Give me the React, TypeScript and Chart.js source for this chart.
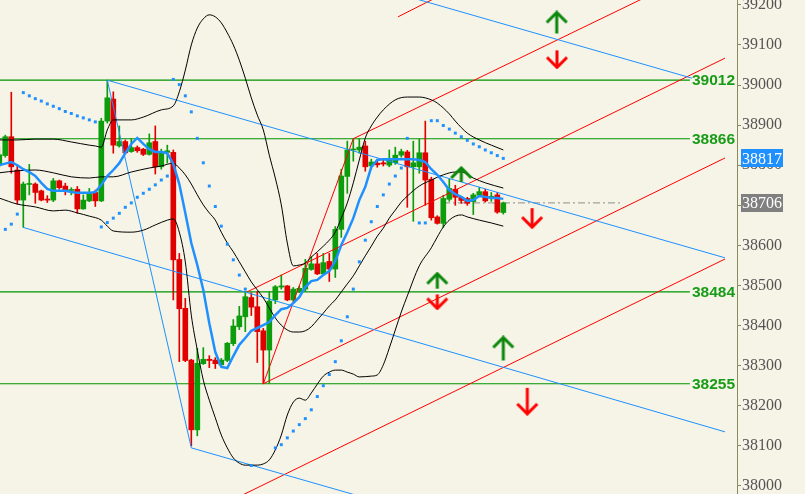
import { useEffect, useRef } from 'react';
import Chart from 'chart.js/auto';

// ---- candles (one per bar, index = position) ----
const openPrices = [
  38800, 38824, 38871, 38788, 38713, 38752, 38753, 38736, 38715, 38713,
  38761, 38748, 38737, 38740, 38691, 38711, 38732, 38711, 38910, 38965,
  38848, 38859, 38834, 38844, 38840, 38827, 38859, 38796, 38832, 38832,
  38565, 38443, 38314, 38140, 38305, 38316, 38314, 38302, 38313, 38355,
  38397, 38422, 38470, 38447, 38387, 38339, 38464, 38496, 38499, 38464,
  38485, 38491, 38540, 38554, 38529, 38560, 38541, 38640, 38772, 38838,
  38838, 38848, 38798, 38805, 38806, 38800, 38806, 38825, 38833, 38796,
  38796, 38831, 38765, 38671, 38655, 38715, 38740, 38720, 38717, 38709,
  38725, 38734, 38720, 38726, 38682,
];
const highPrices = [
  38845, 38875, 38982, 38800, 38758, 38802, 38756, 38738, 38724, 38767,
  38763, 38755, 38744, 38747, 38726, 38742, 38738, 38917, 39012, 38983,
  38898, 38863, 38866, 38848, 38842, 38878, 38898, 38840, 38850, 38838,
  38580, 38468, 38316, 38343, 38345, 38325, 38320, 38318, 38358, 38415,
  38448, 38484, 38482, 38485, 38393, 38485, 38500, 38526, 38500, 38495,
  38498, 38565, 38572, 38580, 38580, 38580, 38647, 38790, 38860, 38866,
  38866, 38860, 38815, 38815, 38813, 38838, 38845, 38840, 38837, 38860,
  38865, 38910, 38770, 38674, 38725, 38765, 38750, 38722, 38720, 38730,
  38745, 38740, 38732, 38732, 38708,
];
const lowPrices = [
  38795, 38820, 38780, 38703, 38645, 38726, 38705, 38711, 38707, 38709,
  38740, 38726, 38726, 38680, 38690, 38709, 38697, 38709, 38905, 38830,
  38845, 38828, 38832, 38832, 38824, 38825, 38778, 38790, 38805, 38464,
  38310, 38310, 38100, 38125, 38303, 38295, 38293, 38300, 38310, 38350,
  38390, 38385, 38425, 38308, 38255, 38256, 38455, 38491, 38462, 38460,
  38482, 38485, 38538, 38527, 38525, 38510, 38520, 38620, 38730, 38810,
  38830, 38785, 38790, 38795, 38798, 38796, 38802, 38820, 38695, 38660,
  38780, 38700, 38663, 38653, 38645, 38710, 38700, 38705, 38700, 38677,
  38722, 38708, 38710, 38680, 38678,
];
const closePrices = [
  38826, 38871, 38796, 38713, 38753, 38754, 38732, 38713, 38713, 38761,
  38744, 38738, 38739, 38691, 38713, 38732, 38711, 38910, 38968, 38850,
  38859, 38831, 38844, 38836, 38827, 38856, 38796, 38834, 38836, 38564,
  38442, 38313, 38140, 38306, 38316, 38313, 38305, 38314, 38356, 38399,
  38424, 38472, 38446, 38385, 38339, 38461, 38497, 38499, 38464, 38491,
  38493, 38543, 38554, 38529, 38557, 38541, 38640, 38773, 38838, 38840,
  38845, 38796, 38808, 38801, 38803, 38814, 38825, 38834, 38796, 38806,
  38831, 38763, 38669, 38655, 38717, 38742, 38720, 38712, 38705, 38726,
  38734, 38711, 38722, 38683, 38706,
];

// ---- moving average (one value per bar) ----
const maValues = [
  38800, 38804, 38808, 38800, 38790, 38783, 38773, 38756, 38741, 38736,
  38736, 38736, 38733, 38731, 38731, 38731, 38733, 38751, 38773, 38788,
  38805, 38830, 38853, 38868, 38853, 38840, 38833, 38833, 38830, 38803,
  38753, 38681, 38606, 38551, 38489, 38406, 38334, 38297, 38294, 38324,
  38352, 38369, 38387, 38394, 38401, 38409, 38426, 38441, 38444, 38456,
  38471, 38496, 38511, 38514, 38526, 38536, 38561, 38601, 38633, 38668,
  38713, 38746, 38796, 38813, 38815, 38815, 38815, 38815, 38815, 38815,
  38813, 38808, 38790, 38776, 38758, 38738, 38728, 38721, 38711, 38713,
  38723, 38721, 38718, 38718, 38716,
];

// ---- envelope bands, read at the listed bars ----
const upperBandAt = [0, 3, 6, 9, 12, 15, 16, 17, 18, 19, 22, 24, 27, 29, 30, 31, 32, 33, 34, 35, 36, 37, 38, 39, 40, 41, 42, 43, 44, 45, 46, 47, 48, 49, 50, 51, 52, 53, 54, 55, 56, 57, 58, 59, 60, 61, 62, 63, 64, 66, 68, 70, 72, 73, 75, 76, 78, 80, 82, 84];
const upperBand = [38863, 38863, 38865, 38865, 38858, 38850, 38848, 38845, 38888, 38913, 38913, 38920, 38938, 38948, 38983, 39037, 39100, 39142, 39165, 39175, 39170, 39155, 39130, 39100, 39062, 39017, 38968, 38925, 38888, 38825, 38768, 38701, 38606, 38549, 38551, 38556, 38571, 38584, 38598, 38613, 38633, 38668, 38706, 38756, 38813, 38868, 38898, 38920, 38938, 38963, 38970, 38970, 38963, 38955, 38928, 38910, 38880, 38863, 38850, 38838];
const middleBandAt = [0, 3, 6, 9, 12, 15, 17, 19, 22, 25, 27, 29, 30, 31, 32, 33, 34, 35, 36, 37, 38, 39, 40, 41, 42, 43, 44, 45, 46, 47, 48, 49, 50, 51, 52, 53, 54, 55, 56, 57, 58, 59, 60, 61, 62, 63, 64, 65, 66, 67, 68, 70, 72, 74, 76, 77, 79, 81, 84];
const middleBand = [38781, 38786, 38788, 38781, 38771, 38768, 38771, 38771, 38783, 38793, 38798, 38805, 38793, 38776, 38753, 38726, 38701, 38681, 38663, 38633, 38606, 38584, 38559, 38534, 38509, 38489, 38469, 38444, 38419, 38401, 38389, 38384, 38384, 38387, 38397, 38414, 38431, 38449, 38464, 38484, 38504, 38524, 38549, 38574, 38598, 38623, 38643, 38668, 38688, 38708, 38723, 38748, 38763, 38776, 38783, 38783, 38768, 38756, 38743];
const lowerBandAt = [0, 3, 6, 9, 11, 13, 15, 17, 18, 19, 22, 24, 26, 28, 29, 30, 31, 32, 33, 34, 35, 36, 37, 38, 39, 40, 41, 42, 43, 44, 45, 46, 47, 48, 49, 50, 51, 52, 53, 54, 55, 56, 57, 58, 59, 60, 62, 63, 64, 65, 66, 67, 68, 70, 72, 73, 74, 75, 76, 77, 78, 80, 82, 84];
const lowerBand = [38718, 38703, 38696, 38686, 38688, 38681, 38673, 38663, 38648, 38636, 38633, 38638, 38651, 38663, 38666, 38633, 38559, 38426, 38339, 38264, 38214, 38170, 38127, 38095, 38070, 38057, 38052, 38052, 38052, 38055, 38065, 38090, 38127, 38177, 38209, 38219, 38214, 38232, 38254, 38274, 38284, 38289, 38289, 38284, 38279, 38272, 38274, 38277, 38302, 38344, 38389, 38434, 38474, 38549, 38594, 38621, 38646, 38663, 38673, 38676, 38671, 38663, 38656, 38648];

// ---- stop-and-reverse dots ----
const sarAt = [1, 2, 3, 4, 5, 6, 7, 8, 9, 10, 11, 12, 13, 14, 15, 16, 17, 18, 19, 20, 21, 22, 23, 24, 25, 26, 27, 28, 29, 30, 31, 32, 33, 34, 35, 36, 37, 38, 39, 40, 41, 42, 46, 47, 48, 49, 50, 51, 52, 53, 54, 55, 56, 57, 58, 59, 60, 61, 62, 63, 64, 65, 66, 67, 68, 70, 71, 72, 73, 74, 75, 76, 77, 78, 79, 80, 81, 82, 83, 84];
const sarValues = [38640, 38653, 38678, 38981, 38973, 38966, 38960, 38953, 38947, 38941, 38934, 38929, 38923, 38918, 38913, 38908, 38646, 38657, 38668, 38680, 38695, 38706, 38720, 38730, 38740, 38751, 38763, 38773, 39014, 39001, 38973, 38933, 38867, 38806, 38748, 38697, 38648, 38603, 38564, 38526, 38491, 38051, 38095, 38103, 38120, 38137, 38153, 38168, 38190, 38223, 38250, 38278, 38310, 38362, 38422, 38491, 38559, 38613, 38659, 38697, 38726, 38753, 38773, 38793, 38867, 38656, 38656, 38911, 38911, 38899, 38890, 38880, 38871, 38862, 38853, 38846, 38838, 38831, 38824, 38817];

// ---- drawn objects: [bar1, price1, bar2, price2] ----
const blueTrendLines = [
  [18, 39012, 120.95, 38569],
  [64.3, 39237, 115.45, 39017],
  [3.95, 38645, 120.95, 38135],
  [18, 39012, 32, 38095],
  [32, 38095, 63.45, 37960],
];
const redTrendLines = [
  [44, 38255, 59, 38866],
  [59, 38866, 110.2, 39237],
  [44, 38255, 120.95, 38818],
  [41.3, 38484, 120.95, 39067],
  [37.6, 37956, 120.95, 38566],
  [66.45, 39170, 73.45, 39223],
];
const levelPrices = [39012, 38866, 38484, 38255];
const levelEndBar = 115.1;
const levelLabelBar = 115.45;
const lastClose = 38706;
const lastCloseFrom = 73.95;
const lastCloseTo = 103.45;
const sarLast = 38817;

// ---- arrows: bar, price, height in px ----
const upArrows = [
  [92.9, 39156, 22],
  [77.0, 38777, 15],
  [73.0, 38512, 16],
  [84.0, 38343, 24],
];
const downArrows = [
  [92.95, 39064, 18],
  [88.8, 38668, 20],
  [73.0, 38459, 15],
  [88.0, 38211, 27],
];

const yTicks = [39200, 39100, 39000, 38900, 38800, 38700, 38600, 38500, 38400, 38300, 38200, 38100, 38000];

const X_MIN = 0.117;
const X_MAX = 122.95;
const Y_MIN = 37980;
const Y_MAX = 39212;

const BG = '#f6f4e6';
const UP = '#0c9c0c';
const DOWN = '#e00000';
const BLUE = '#1e90ff';
const LEVEL = '#009400';
const AXIS = '#8a8a60';

function makeArrow(color: string, up: boolean, h: number) {
  const w = 22;
  const c = document.createElement('canvas');
  c.width = w + 2;
  c.height = h + 2;
  const ctx = c.getContext('2d')!;
  ctx.strokeStyle = color;
  ctx.lineWidth = 3;
  ctx.lineCap = 'butt';
  ctx.lineJoin = 'miter';
  const cx = c.width / 2;
  const tip = up ? 2 : h;
  const tail = up ? h + 1 : 1;
  const head = up ? tip + 10 : tip - 10;
  ctx.beginPath();
  ctx.moveTo(cx, tip + (up ? 1 : -1));
  ctx.lineTo(cx, tail);
  ctx.stroke();
  ctx.beginPath();
  ctx.moveTo(2, head);
  ctx.lineTo(cx, tip);
  ctx.lineTo(c.width - 2, head);
  ctx.stroke();
  return c;
}

const seg = (l: number[]) => [{ x: l[0], y: l[1] }, { x: l[2], y: l[3] }];

const App = () => {
  const canvasRef = useRef<HTMLCanvasElement>(null);
  const chartRef = useRef<Chart | null>(null);

  useEffect(() => {
    if (!canvasRef.current) return;
    if (chartRef.current) chartRef.current.destroy();

    const bars = openPrices.map((_, i) => i);
    const candleColors = bars.map(i => (closePrices[i] >= openPrices[i] ? UP : DOWN));

    const lineBase = { type: 'line', pointRadius: 0, pointHoverRadius: 0, fill: false, tension: 0 };

    const datasets: any[] = [];

    datasets.push({
      type: 'bar', data: bars.map(i => ({ x: i, y: [lowPrices[i], highPrices[i]] })),
      backgroundColor: candleColors, barThickness: 1, grouped: false, minBarLength: 1, order: 8,
    });
    datasets.push({
      type: 'bar', data: bars.map(i => ({ x: i, y: [openPrices[i], closePrices[i]] })),
      backgroundColor: candleColors, barThickness: 5, grouped: false, minBarLength: 1, order: 7,
    });

    levelPrices.forEach(p => {
      datasets.push({
        ...lineBase, data: [{ x: 0, y: p }, { x: levelEndBar, y: p }],
        borderColor: LEVEL, backgroundColor: LEVEL, borderWidth: 1.2, order: 9,
      });
    });
    datasets.push({
      ...lineBase,
      data: [{ x: lastCloseFrom, y: lastClose }, { x: lastCloseTo, y: lastClose }],
      borderColor: '#8c8c8c', borderWidth: 1, borderDash: [7, 3, 2, 3], order: 9,
    });

    blueTrendLines.forEach(l => datasets.push({ ...lineBase, data: seg(l), borderColor: BLUE, borderWidth: 1, order: 6 }));
    redTrendLines.forEach(l => datasets.push({ ...lineBase, data: seg(l), borderColor: '#ff0000', borderWidth: 1, order: 6 }));

    [[upperBandAt, upperBand], [middleBandAt, middleBand], [lowerBandAt, lowerBand]].forEach(([at, vals]) => {
      datasets.push({
        ...lineBase, data: at.map((b, k) => ({ x: b, y: vals[k] })),
        borderColor: '#000000', borderWidth: 1, cubicInterpolationMode: 'monotone', order: 5,
      });
    });

    datasets.push({
      ...lineBase, data: bars.map(i => ({ x: i, y: maValues[i] })),
      borderColor: BLUE, borderWidth: 2.5, order: 3,
    });

    datasets.push({
      type: 'scatter', data: sarAt.map((b, k) => ({ x: b, y: sarValues[k] })),
      pointStyle: 'rect', pointRadius: 2.1, pointHoverRadius: 0, backgroundColor: BLUE, borderWidth: 0, order: 2,
    });

    datasets.push({
      type: 'scatter', data: upArrows.map(a => ({ x: a[0], y: a[1] })),
      pointStyle: upArrows.map(a => makeArrow('#0a870a', true, a[2])), order: 1,
    });
    datasets.push({
      type: 'scatter', data: downArrows.map(a => ({ x: a[0], y: a[1] })),
      pointStyle: downArrows.map(a => makeArrow('#ff0000', false, a[2])), order: 1,
    });

    const bgPlugin = {
      id: 'bg',
      beforeDraw: (chart: any) => {
        const ctx = chart.ctx;
        ctx.save();
        ctx.fillStyle = BG;
        ctx.fillRect(0, 0, chart.width, chart.height);
        ctx.restore();
      },
    };

    const labelPlugin = {
      id: 'labels',
      afterDatasetsDraw: (chart: any) => {
        const ctx = chart.ctx;
        const xs = chart.scales.x;
        const ys = chart.scales.y;
        ctx.save();
        ctx.font = 'bold 15.5px "Liberation Sans", Arial, sans-serif';
        ctx.fillStyle = '#189c18';
        ctx.textBaseline = 'middle';
        ctx.textAlign = 'left';
        levelPrices.forEach(p => {
          ctx.fillText(String(p), xs.getPixelForValue(levelLabelBar), ys.getPixelForValue(p) + 1);
        });
        ctx.restore();
      },
      afterDraw: (chart: any) => {
        const ctx = chart.ctx;
        const ys = chart.scales.y;
        const left = chart.chartArea.right + 4;
        ctx.save();
        ctx.font = '16px "Liberation Serif", "Times New Roman", serif';
        ctx.textBaseline = 'middle';
        ctx.textAlign = 'left';
        [[sarLast, BLUE], [lastClose, '#808080']].forEach(([v, bg]) => {
          const y = ys.getPixelForValue(v as number);
          ctx.fillStyle = bg as string;
          ctx.fillRect(left, Math.round(y - 9), 42, 18);
          ctx.fillStyle = '#ffffff';
          ctx.fillText(String(v), left + 1, y + 1);
        });
        ctx.restore();
      },
    };

    chartRef.current = new Chart(canvasRef.current, {
      type: 'bar',
      data: { datasets },
      options: {
        animation: false,
        responsive: false,
        devicePixelRatio: 1,
        events: [],
        layout: { padding: 0, autoPadding: false },
        plugins: { legend: { display: false }, tooltip: { enabled: false } },
        scales: {
          x: { type: 'linear', display: false, min: X_MIN, max: X_MAX, offset: false },
          y: {
            type: 'linear',
            position: 'right',
            min: Y_MIN,
            max: Y_MAX,
            afterBuildTicks: (scale: any) => {
              scale.ticks = yTicks.map(v => ({ value: v }));
            },
            afterFit: (scale: any) => {
              scale.width = 68;
              scale.paddingTop = 0;
              scale.paddingBottom = 0;
            },
            ticks: {
              padding: 1,
              color: '#555555',
              font: { family: '"Liberation Serif", "Times New Roman", serif', size: 16 },
              callback: (v: any) => String(v),
            },
            grid: { drawOnChartArea: false, tickLength: 4, color: AXIS },
            border: { display: true, color: AXIS, width: 1 },
          },
        },
      } as any,
      plugins: [bgPlugin, labelPlugin],
    } as any);

    return () => {
      if (chartRef.current) {
        chartRef.current.destroy();
        chartRef.current = null;
      }
    };
  }, []);

  return (
    <div style={{ position: 'fixed', left: 0, top: 0, width: 805, height: 494, background: BG }}>
      <canvas ref={canvasRef} width={805} height={494} />
    </div>
  );
};

export default App;
